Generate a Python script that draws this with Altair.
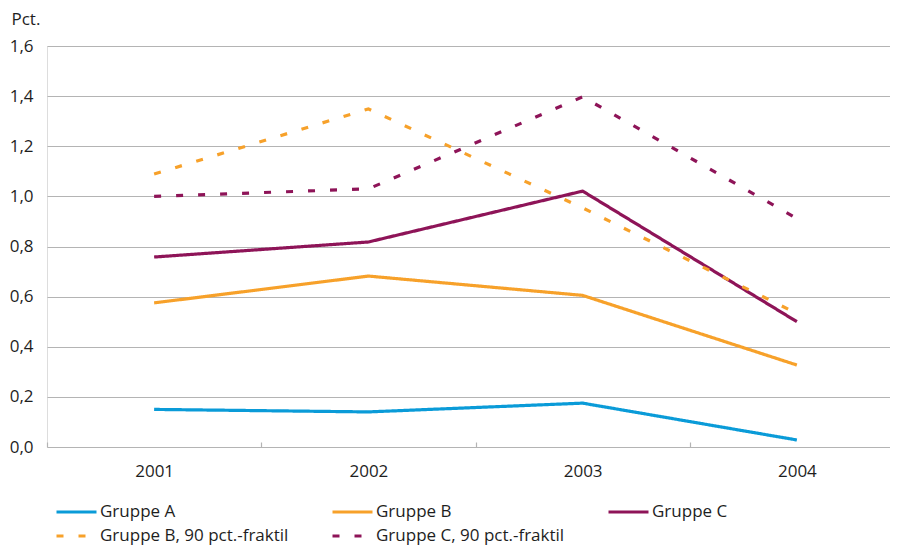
import altair as alt
import pandas as pd

years = ["2001", "2002", "2003", "2004"]
series_names = ["Gruppe A", "Gruppe B", "Gruppe C",
                "Gruppe B, 90 pct.-fraktil", "Gruppe C, 90 pct.-fraktil"]
gruppe_a = [0.15, 0.14, 0.175, 0.028]
gruppe_b = [0.575, 0.682, 0.605, 0.327]
gruppe_c = [0.758, 0.818, 1.021, 0.50]
gruppe_b90 = [1.089, 1.349, 0.954, 0.533]
gruppe_c90 = [1.0, 1.03, 1.397, 0.912]
colors = ["#0a9bd8", "#f7a12a", "#8e1458", "#f7a12a", "#8e1458"]
dashes = [[1, 0], [1, 0], [1, 0], [7, 15], [7, 15]]

rows = []
for name, vals in zip(series_names, [gruppe_a, gruppe_b, gruppe_c, gruppe_b90, gruppe_c90]):
    for y, v in zip(years, vals):
        rows.append({"year": y, "value": v, "series": name})
df = pd.DataFrame(rows)

FONT = "Open Sans"
TXT = "#1e1e1e"
FS = 17

lines = alt.Chart(df).mark_line(strokeWidth=3.2, strokeCap="butt").encode(
    x=alt.X("year:O", sort=years, title=None,
            scale=alt.Scale(paddingInner=0, paddingOuter=0),
            axis=alt.Axis(labelAngle=0, domain=False, ticks=True, tickSize=5,
                          offset=-5, tickBand="extent", tickColor="#b4b4b4",
                          tickWidth=1.2, labelPadding=16, labelFontSize=FS,
                          labelFont=FONT, labelColor=TXT, grid=False)),
    y=alt.Y("value:Q", scale=alt.Scale(domain=[0, 1.6], nice=False),
            axis=alt.Axis(values=[0, 0.2, 0.4, 0.6, 0.8, 1.0, 1.2, 1.4, 1.6],
                          labelExpr="replace(format(datum.value, '.1f'), '.', ',')",
                          domain=False, ticks=False, labelPadding=14,
                          labelFontSize=FS, labelFont=FONT, labelColor=TXT,
                          grid=True, gridColor="#b4b4b4", gridWidth=1.2,
                          title="Pct.", titleAngle=0, titleAlign="left",
                          titleBaseline="alphabetic", titleX=-36, titleY=-22,
                          titleFont=FONT, titleFontSize=FS, titleFontWeight="normal",
                          titleColor=TXT)),
    color=alt.Color("series:N", scale=alt.Scale(domain=series_names, range=colors),
                    legend=alt.Legend(title=None, orient="none", legendX=8, legendY=456,
                                      direction="horizontal",
                                      columns=3, symbolType="stroke", symbolSize=1600,
                                      symbolStrokeWidth=3, labelFontSize=FS, labelFont=FONT,
                                      labelColor=TXT, labelOffset=2, clipHeight=20,
                                      rowPadding=4, columnPadding=42, padding=0,
                                      labelLimit=400)),
    strokeDash=alt.StrokeDash("series:N", scale=alt.Scale(domain=series_names, range=dashes),
                              legend=None),
    detail="series:N",
)

chart = lines.properties(
    width=857, height=401,
    autosize=alt.AutoSizeParams(type="none"),
    padding={"left": 39, "top": 38, "right": -14, "bottom": 99},
).configure_view(stroke=None).configure(background="white")

chart.save("out.html", embed_options={"renderer": "svg", "actions": False})
